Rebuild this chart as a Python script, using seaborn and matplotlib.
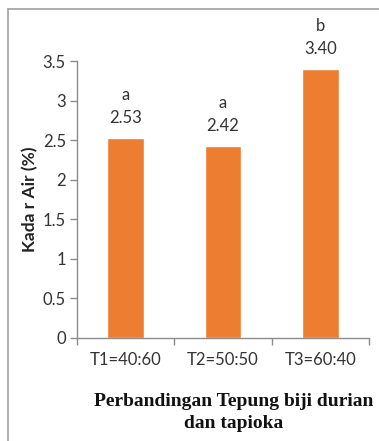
import matplotlib
matplotlib.use("Agg")
import matplotlib.pyplot as plt
from matplotlib.lines import Line2D
import seaborn as sns
import pandas as pd

# Data
treatments = ["T1=40:60", "T2=50:50", "T3=60:40"]
kadar_air = [2.53, 2.42, 3.40]
notasi = ["a", "a", "b"]
y_ticks = [0, 0.5, 1, 1.5, 2, 2.5, 3, 3.5]
y_tick_labels = ["0", "0.5", "1", "1.5", "2", "2.5", "3", "3.5"]

df = pd.DataFrame({"perlakuan": treatments, "kadar": kadar_air})

sns.set_theme(style="white")
plt.rcParams["font.family"] = ["Lato", "DejaVu Sans"]

fig = plt.figure(figsize=(3.79, 4.41), dpi=100)
ax = fig.add_axes([77 / 379, 1 - 338 / 441, (369 - 77) / 379, (338 - 61) / 441])

bar_color = "#ED7D31"
sns.barplot(data=df, x="perlakuan", y="kadar", color=bar_color, width=0.38,
            saturation=1, ax=ax)

ax.set_xlim(-0.5, 2.5)
ax.set_ylim(0, 3.5)
ax.set_yticks(y_ticks)
ax.set_yticklabels(y_tick_labels)

spine_color = "#8c8c8c"
text_color = "#333333"
for s in ["top", "right"]:
    ax.spines[s].set_visible(False)
for s in ["left", "bottom"]:
    ax.spines[s].set_color(spine_color)
    ax.spines[s].set_linewidth(1.0)

ax.tick_params(axis="y", which="major", left=True, length=5, width=1,
               color=spine_color, labelsize=12, labelcolor=text_color, pad=3)
ax.tick_params(axis="x", which="major", bottom=False, length=0,
               labelsize=12, labelcolor=text_color, pad=10)
ax.set_xticks([-0.5, 0.5, 1.5, 2.5], minor=True)
ax.tick_params(axis="x", which="minor", bottom=True, length=5, width=1,
               color=spine_color)

ax.set_ylabel("Kada r Air (%)", fontsize=12.5, fontweight="bold",
              color="#222222", labelpad=3)
ax.set_xlabel("Perbandingan Tepung biji durian\ndan tapioka",
              fontsize=14, fontweight="bold", family="Liberation Serif",
              color="#111111", linespacing=1.4)
ax.xaxis.set_label_coords(0.537, -0.197, transform=ax.transAxes)
ax.xaxis.label.set_va("top")

# Value and significance letters above bars
for i, (v, n) in enumerate(zip(kadar_air, notasi)):
    ax.annotate(f"{v:.2f}", xy=(i, v), xytext=(0, 14.5), textcoords="offset points",
                ha="center", va="center", fontsize=12, color=text_color)
    ax.annotate(n, xy=(i, v), xytext=(0, 31), textcoords="offset points",
                ha="center", va="center", fontsize=12, color=text_color)

# Page frame around the chart
frame_color = "#a0a0a0"
fig.add_artist(Line2D([8 / 379, 8 / 379], [0, 1 - 9 / 441],
                      transform=fig.transFigure, color=frame_color, lw=1.2))
fig.add_artist(Line2D([8 / 379, 1], [1 - 9 / 441, 1 - 9 / 441],
                      transform=fig.transFigure, color=frame_color, lw=1.2))

fig.savefig("out.png", dpi=100)
